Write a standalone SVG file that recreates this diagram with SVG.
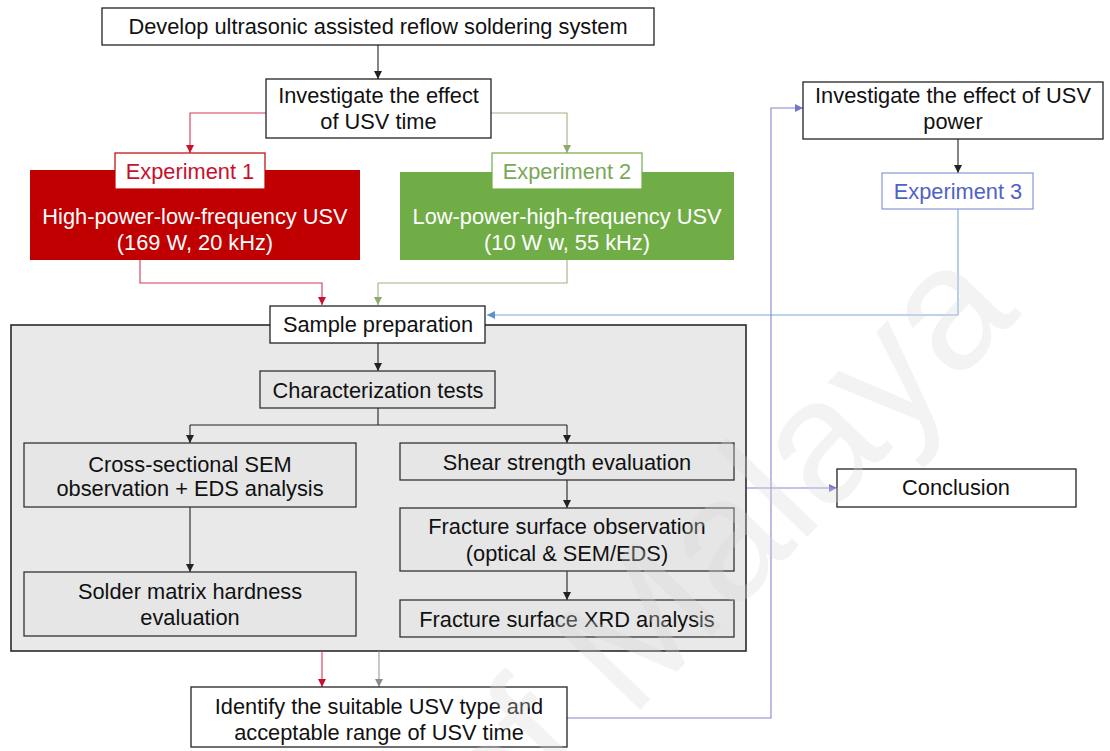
<svg xmlns="http://www.w3.org/2000/svg" width="1110" height="751" viewBox="0 0 1110 751">
<style>
  text { font-family: "Liberation Sans", Arial, sans-serif; font-size: 21.8px; text-anchor: middle; fill: #111; }
  .box { fill: #fff; stroke: #222; stroke-width: 1.3; }
  .gbox { fill: #e6e6e6; stroke: #333; stroke-width: 1.3; }
  .wt { fill: #fff; }
  .k { fill: none; stroke: #222; stroke-width: 1.1; }
  .r { fill: none; stroke: #d8365a; stroke-width: 1.1; }
  .g { fill: none; stroke: #9fb283; stroke-width: 1.1; }
  .b { fill: none; stroke: #7aa6d8; stroke-width: 1.1; }
  .p { fill: none; stroke: #8585d0; stroke-width: 1.1; }
  .gr { fill: none; stroke: #9a9a9a; stroke-width: 1.1; }
</style>
<defs>
  <marker id="ak" markerUnits="userSpaceOnUse" markerWidth="9" markerHeight="9" refX="8" refY="4" orient="auto"><path d="M0,0 L8,4 L0,8 z" fill="#222"/></marker>
  <marker id="ar" markerUnits="userSpaceOnUse" markerWidth="9" markerHeight="9" refX="8" refY="4" orient="auto"><path d="M0,0 L8,4 L0,8 z" fill="#c8102e"/></marker>
  <marker id="ag" markerUnits="userSpaceOnUse" markerWidth="9" markerHeight="9" refX="8" refY="4" orient="auto"><path d="M0,0 L8,4 L0,8 z" fill="#8fa870"/></marker>
  <marker id="ab" markerUnits="userSpaceOnUse" markerWidth="9" markerHeight="9" refX="8" refY="4" orient="auto"><path d="M0,0 L8,4 L0,8 z" fill="#5b93cf"/></marker>
  <marker id="ap" markerUnits="userSpaceOnUse" markerWidth="9" markerHeight="9" refX="8" refY="4" orient="auto"><path d="M0,0 L8,4 L0,8 z" fill="#7676c8"/></marker>
  <marker id="agr" markerUnits="userSpaceOnUse" markerWidth="9" markerHeight="9" refX="8" refY="4" orient="auto"><path d="M0,0 L8,4 L0,8 z" fill="#8c8c8c"/></marker>
</defs>
<rect width="1110" height="751" fill="#fff"/>

<g id="container">
  <rect x="11" y="325" width="735" height="326" fill="#e9e9e9" stroke="#2a2a2a" stroke-width="1.6"/>
</g>

<g id="connectors">
  <path class="k" d="M378,45 V79" marker-end="url(#ak)"/>
  <path class="r" d="M266,113 H190 V153" marker-end="url(#ar)"/>
  <path class="g" d="M491,113 H567 V153" marker-end="url(#ag)"/>
  <path class="r" d="M140,260 V283 H322 V305" marker-end="url(#ar)"/>
  <path class="g" d="M567,260 V283 H378 V305" marker-end="url(#ag)"/>
  <path class="b" d="M958,209 V315 H487" marker-end="url(#ab)"/>
  <path class="k" d="M958,139 V173" marker-end="url(#ak)"/>
  <path class="k" d="M378,343 V371" marker-end="url(#ak)"/>
  <path class="k" d="M378,408 V425"/>
  <path class="k" d="M190,425 H567"/>
  <path class="k" d="M190,425 V443" marker-end="url(#ak)"/>
  <path class="k" d="M567,425 V443" marker-end="url(#ak)"/>
  <path class="k" d="M190,507 V572" marker-end="url(#ak)"/>
  <path class="k" d="M567,480 V508" marker-end="url(#ak)"/>
  <path class="k" d="M567,571 V600" marker-end="url(#ak)"/>
  <path class="r" d="M322,651 V687" marker-end="url(#ar)"/>
  <path class="gr" d="M379,651 V687" marker-end="url(#agr)"/>
  <path class="p" d="M567,718 H771 V108 H803" marker-end="url(#ap)"/>
  <path class="p" d="M747,488 H837" marker-end="url(#ap)"/>
</g>

<g id="develop">
  <rect class="box" x="102" y="8" width="552" height="37"/>
  <text x="378" y="34">Develop ultrasonic assisted reflow soldering system</text>
</g>
<g id="investigate-time">
  <rect class="box" x="266" y="79" width="225" height="59"/>
  <text x="378.5" y="103">Investigate the effect</text>
  <text x="378.5" y="129">of USV time</text>
</g>
<g id="exp1">
  <rect x="30" y="170" width="330" height="90" fill="#c00000"/>
  <rect x="115" y="153" width="150" height="36" fill="#fff" stroke="#c00000" stroke-width="1.2"/>
  <text x="190" y="179" style="fill:#c8102e">Experiment 1</text>
  <text x="195" y="224" class="wt">High-power-low-frequency USV</text>
  <text x="195" y="250" class="wt">(169 W, 20 kHz)</text>
</g>
<g id="exp2">
  <rect x="400" y="172" width="334" height="88" fill="#70ad47"/>
  <rect x="492" y="153" width="150" height="36" fill="#fff" stroke="#70ad47" stroke-width="1.2"/>
  <text x="567" y="179" style="fill:#7aa85a">Experiment 2</text>
  <text x="567" y="224" class="wt">Low-power-high-frequency USV</text>
  <text x="567" y="250" class="wt">(10 W w, 55 kHz)</text>
</g>
<g id="investigate-power">
  <rect class="box" x="803" y="82" width="300" height="57"/>
  <text x="953" y="103">Investigate the effect of USV</text>
  <text x="953" y="129">power</text>
</g>
<g id="exp3">
  <rect x="882" y="173" width="151" height="36" fill="#fff" stroke="#8a95d8" stroke-width="1.2"/>
  <text x="958" y="199" style="fill:#5262c4">Experiment 3</text>
</g>
<g id="sample-prep">
  <rect class="box" x="270" y="306" width="215" height="37"/>
  <text x="378" y="332">Sample preparation</text>
</g>
<g id="char-tests">
  <rect class="gbox" x="260" y="371" width="235" height="37"/>
  <text x="378" y="398">Characterization tests</text>
</g>
<g id="cross-sectional">
  <rect class="gbox" x="24" y="443" width="332" height="64"/>
  <text x="190" y="472">Cross-sectional SEM</text>
  <text x="190" y="496">observation + EDS analysis</text>
</g>
<g id="solder-hardness">
  <rect class="gbox" x="24" y="572" width="332" height="64"/>
  <text x="190" y="599">Solder matrix hardness</text>
  <text x="190" y="625">evaluation</text>
</g>
<g id="shear">
  <rect class="gbox" x="400" y="443" width="334" height="37"/>
  <text x="567" y="470">Shear strength evaluation</text>
</g>
<g id="fracture-obs">
  <rect class="gbox" x="400" y="508" width="334" height="63"/>
  <text x="567" y="534">Fracture surface observation</text>
  <text x="567" y="561">(optical &amp; SEM/EDS)</text>
</g>
<g id="xrd">
  <rect class="gbox" x="400" y="600" width="334" height="37"/>
  <text x="567" y="627">Fracture surface XRD analysis</text>
</g>
<g id="identify">
  <rect class="box" x="191" y="687" width="376" height="60"/>
  <text x="379" y="714">Identify the suitable USV type and</text>
  <text x="379" y="740">acceptable range of USV time</text>
</g>
<g id="conclusion">
  <rect class="box" x="837" y="469" width="239" height="38"/>
  <text x="956" y="495">Conclusion</text>
</g>

<g id="watermark">
  <text x="0" y="0" transform="translate(495,860) rotate(-46)" style="font-size:175px;text-anchor:start;fill:#d8d8d8;fill-opacity:0.3">of Malaya</text>
</g>
</svg>
